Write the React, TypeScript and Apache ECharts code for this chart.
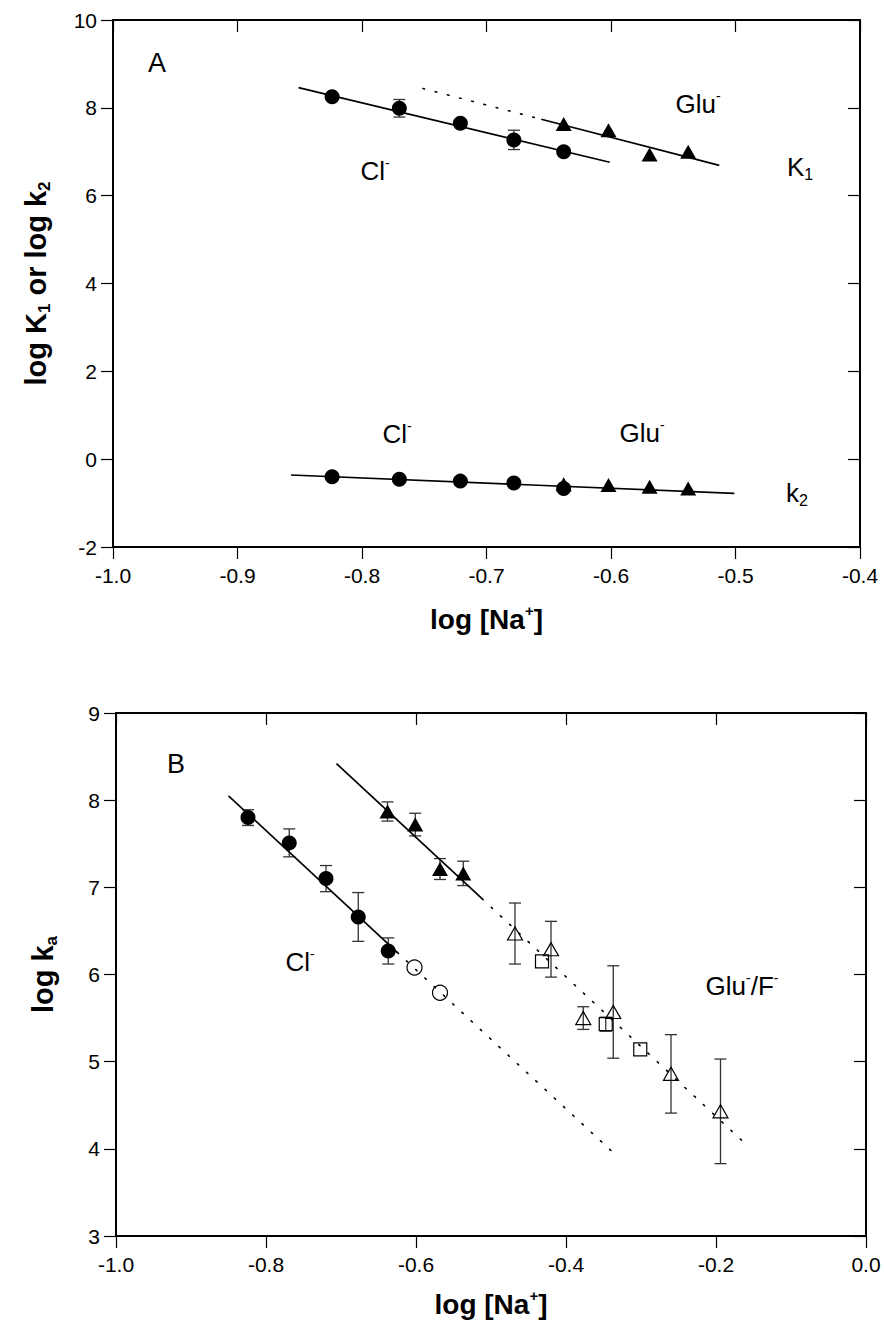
import React, { useEffect, useRef } from "react";
import * as echarts from "echarts";

// ---------- Panel A data ----------
const naA_Cl = [-0.824, -0.770, -0.721, -0.678, -0.638];
const logK1_Cl = [8.25, 7.99, 7.65, 7.27, 7.0];
const logK1_Cl_err = [0.0, 0.2, 0.0, 0.22, 0.0];
const naA_Glu = [-0.638, -0.602, -0.569, -0.538];
const logK1_Glu = [7.63, 7.49, 6.94, 7.0];
const logk2_Cl = [-0.4, -0.46, -0.5, -0.54, -0.67];
const logk2_Glu = [-0.57, -0.59, -0.63, -0.67];
const fitK1_Cl = [[-0.851, 8.46], [-0.601, 6.76]];
const fitK1_Glu = [[-0.656, 7.74], [-0.513, 6.69]];
const fitK1_GluDotted = [[-0.751, 8.44], [-0.656, 7.74]];
const fitk2 = [[-0.857, -0.36], [-0.501, -0.78]];

// ---------- Panel B data ----------
const naB_Cl = [-0.824, -0.769, -0.72, -0.677, -0.637];
const logka_Cl = [7.8, 7.51, 7.1, 6.66, 6.27];
const logka_Cl_err = [0.09, 0.16, 0.15, 0.28, 0.15];
const naB_ClOpen = [-0.602, -0.568];
const logka_ClOpen = [6.08, 5.79];
const naB_Glu = [-0.638, -0.601, -0.568, -0.537];
const logka_Glu = [7.87, 7.72, 7.21, 7.16];
const logka_Glu_err = [0.11, 0.13, 0.12, 0.14];
const naB_GluOpen = [-0.468, -0.42, -0.377, -0.337, -0.26, -0.194];
const logka_GluOpen = [6.47, 6.29, 5.5, 5.57, 4.86, 4.43];
const logka_GluOpen_err = [0.35, 0.32, 0.13, 0.53, 0.45, 0.6];
const naB_F = [-0.432, -0.347, -0.301];
const logka_F = [6.15, 5.43, 5.14];
const logka_F_err = [0.0, 0.08, 0.0];
const fitB_Cl = [[-0.85, 8.05], [-0.625, 6.254]];
const fitB_ClDotted = [[-0.625, 6.254], [-0.34, 3.98]];
const fitB_Glu = [[-0.706, 8.42], [-0.512, 6.87]];
const fitB_GluDotted = [[-0.512, 6.87], [-0.166, 4.1]];

// ---------- axis ranges ----------
const axisA_x = { min: -1.0, max: -0.4, interval: 0.1 };
const axisA_y = { min: -2, max: 10, interval: 2 };
const axisB_x = { min: -1.0, max: 0.0, interval: 0.2 };
const axisB_y = { min: 3, max: 9, interval: 1 };

const NARROW = "'Liberation Sans Narrow', 'Liberation Sans', Arial, sans-serif";
const SANS = "'Liberation Sans', Arial, sans-serif";

const zip = (xs: number[], ys: number[], es?: number[]) =>
  xs.map((x, i) => (es ? [x, ys[i], es[i]] : [x, ys[i]]));

function App() {
  const ref = useRef<HTMLDivElement>(null);

  useEffect(() => {
    if (!ref.current) return;
    const chart = echarts.init(ref.current, undefined, { renderer: "svg" });

    const fmt1 = (v: number) => (Math.abs(v) < 1e-9 ? "0.0" : v.toFixed(1));

    const bottomX = (r: any, grid: number, gap: number) => ({
      type: "value",
      gridIndex: grid,
      position: "bottom",
      min: r.min,
      max: r.max,
      interval: r.interval,
      name: "{b|log [Na}{s|+}{b|]}",
      nameLocation: "middle",
      nameGap: gap,
      nameTextStyle: {
        rich: {
          b: { fontSize: 28, fontWeight: "bold", fontFamily: NARROW, color: "#000", lineHeight: 32 },
          s: { fontSize: 15, fontWeight: "bold", fontFamily: NARROW, color: "#000", verticalAlign: "top", lineHeight: 16 },
        },
      },
      splitLine: { show: false },
      axisLine: { show: true, onZero: false, lineStyle: { color: "#000", width: 2 } },
      axisTick: { show: true, inside: false, length: 12, lineStyle: { color: "#000", width: 1.2 } },
      axisLabel: { show: true, margin: 18, fontSize: 21, fontFamily: NARROW, color: "#000", formatter: fmt1 },
    });
    const topX = (r: any, grid: number) => ({
      type: "value",
      gridIndex: grid,
      position: "top",
      min: r.min,
      max: r.max,
      interval: r.interval,
      splitLine: { show: false },
      axisLine: { show: true, onZero: false, lineStyle: { color: "#000", width: 2 } },
      axisTick: { show: true, inside: true, length: 12, lineStyle: { color: "#000", width: 1.2 } },
      axisLabel: { show: false },
    });
    const leftY = (r: any, grid: number, name: string, rich: any, gap: number) => ({
      type: "value",
      gridIndex: grid,
      position: "left",
      min: r.min,
      max: r.max,
      interval: r.interval,
      name,
      nameLocation: "middle",
      nameGap: gap,
      nameRotate: 90,
      nameTextStyle: { rich },
      splitLine: { show: false },
      axisLine: { show: true, onZero: false, lineStyle: { color: "#000", width: 2 } },
      axisTick: { show: true, inside: false, length: 12, lineStyle: { color: "#000", width: 1.2 } },
      axisLabel: { show: true, margin: 16, fontSize: 21, fontFamily: NARROW, color: "#000" },
    });
    const rightY = (r: any, grid: number) => ({
      type: "value",
      gridIndex: grid,
      position: "right",
      min: r.min,
      max: r.max,
      interval: r.interval,
      splitLine: { show: false },
      axisLine: { show: true, onZero: false, lineStyle: { color: "#000", width: 2 } },
      axisTick: { show: true, inside: true, length: 12, lineStyle: { color: "#000", width: 1.2 } },
      axisLabel: { show: false },
    });

    const yRich = {
      b: { fontSize: 29, fontWeight: "bold", fontFamily: SANS, color: "#000", lineHeight: 34 },
      sub: { fontSize: 17, fontWeight: "bold", fontFamily: SANS, color: "#000", verticalAlign: "bottom", lineHeight: 14 },
    };

    const errBar = (xi: number, yi: number, data: number[][], id: string) => ({
      type: "custom",
      id,
      xAxisIndex: xi,
      yAxisIndex: yi,
      z: 1,
      data,
      renderItem: (params: any, api: any) => {
        const x = api.value(0);
        const y = api.value(1);
        const e = api.value(2);
        if (!e) return null;
        const t = api.coord([x, y + e]);
        const b = api.coord([x, y - e]);
        const w = 6;
        const st = { stroke: "#333", lineWidth: 1.3, fill: "none" };
        return {
          type: "group",
          children: [
            { type: "line", shape: { x1: t[0], y1: t[1], x2: b[0], y2: b[1] }, style: st },
            { type: "line", shape: { x1: t[0] - w, y1: t[1], x2: t[0] + w, y2: t[1] }, style: st },
            { type: "line", shape: { x1: b[0] - w, y1: b[1], x2: b[0] + w, y2: b[1] }, style: st },
          ],
        };
      },
    });

    const fitLine = (xi: number, yi: number, data: number[][], dotted: boolean) => ({
      type: "line",
      xAxisIndex: xi,
      yAxisIndex: yi,
      data,
      z: 2,
      showSymbol: false,
      symbol: "none",
      silent: true,
      lineStyle: dotted
        ? { color: "#000", width: 1.6, type: [1.6, 11], cap: "round" }
        : { color: "#000", width: 1.7 },
    });

    const scatter = (xi: number, yi: number, data: number[][], symbol: string, size: any, open: boolean) => ({
      type: "scatter",
      xAxisIndex: xi,
      yAxisIndex: yi,
      data,
      z: 3,
      symbol,
      symbolSize: size,
      itemStyle: open
        ? { color: "transparent", borderColor: "#000", borderWidth: 1.2, opacity: 1 }
        : { color: "#000", opacity: 1 },
    });

    const supRich = (fs: number) => ({
      a: { fontSize: fs, fontFamily: SANS, fill: "#000", lineHeight: Math.round(fs * 1.2) },
      s: { fontSize: Math.round(fs * 0.55), fontFamily: SANS, fill: "#000", verticalAlign: "top", lineHeight: Math.round(fs * 0.5) },
      d: { fontSize: Math.round(fs * 0.62), fontFamily: SANS, fill: "#000", verticalAlign: "bottom", lineHeight: Math.round(fs * 0.5) },
    });
    const label = (text: string, x: number, y: number, fs = 26) => ({
      type: "text",
      x,
      y,
      silent: true,
      style: { text, rich: supRich(fs), align: "center", verticalAlign: "middle", fill: "#000" },
    });

    const option: any = {
      animation: false,
      backgroundColor: "#fff",
      grid: [
        { left: 113, top: 20, width: 747, height: 527, containLabel: false },
        { left: 116, top: 713, width: 750, height: 523, containLabel: false },
      ],
      xAxis: [bottomX(axisA_x, 0, 56), topX(axisA_x, 0), bottomX(axisB_x, 1, 52), topX(axisB_x, 1)],
      yAxis: [
        leftY(axisA_y, 0, "{b|log K}{sub|1}{b| or log k}{sub|2}", yRich, 60),
        rightY(axisA_y, 0),
        leftY(axisB_y, 1, "{b|log k}{sub|a}", yRich, 56),
        rightY(axisB_y, 1),
      ],
      series: [
        // Panel A
        errBar(0, 0, zip(naA_Cl, logK1_Cl, logK1_Cl_err), "errA"),
        fitLine(0, 0, fitK1_Cl, false),
        fitLine(0, 0, fitK1_Glu, false),
        fitLine(0, 0, fitK1_GluDotted, true),
        fitLine(0, 0, fitk2, false),
        scatter(0, 0, zip(naA_Glu, logK1_Glu), "triangle", [16, 14], false),
        scatter(0, 0, zip(naA_Glu, logk2_Glu), "triangle", [16, 14], false),
        scatter(0, 0, zip(naA_Cl, logK1_Cl), "circle", 15, false),
        scatter(0, 0, zip(naA_Cl, logk2_Cl), "circle", 15, false),
        // Panel B
        errBar(2, 2, zip(naB_Cl, logka_Cl, logka_Cl_err), "errB1"),
        errBar(2, 2, zip(naB_Glu, logka_Glu, logka_Glu_err), "errB2"),
        errBar(2, 2, zip(naB_GluOpen, logka_GluOpen, logka_GluOpen_err), "errB3"),
        errBar(2, 2, zip(naB_F, logka_F, logka_F_err), "errB4"),
        fitLine(2, 2, fitB_Cl, false),
        fitLine(2, 2, fitB_ClDotted, true),
        fitLine(2, 2, fitB_Glu, false),
        fitLine(2, 2, fitB_GluDotted, true),
        scatter(2, 2, zip(naB_Cl, logka_Cl), "circle", 15, false),
        scatter(2, 2, zip(naB_ClOpen, logka_ClOpen), "circle", 15, true),
        scatter(2, 2, zip(naB_Glu, logka_Glu), "triangle", [16, 14], false),
        scatter(2, 2, zip(naB_GluOpen, logka_GluOpen), "triangle", [15, 13], true),
        scatter(2, 2, zip(naB_F, logka_F), "rect", 13, true),
      ],
      graphic: [
        label("{a|A}", 157, 63, 27),
        label("{a|Glu}{s|-}", 698, 104),
        label("{a|Cl}{s|-}", 375, 171),
        label("{a|K}{d|1}", 800, 167),
        label("{a|Cl}{s|-}", 397, 434),
        label("{a|Glu}{s|-}", 642, 433),
        label("{a|k}{d|2}", 797, 493),
        label("{a|B}", 176, 764, 27),
        label("{a|Cl}{s|-}", 300, 962),
        label("{a|Glu}{s|-}{a|/F}{s|-}", 742, 986),
      ],
    };

    chart.setOption(option);
    return () => chart.dispose();
  }, []);

  return (
    <div
      ref={ref}
      style={{ position: "absolute", left: 0, top: 0, width: 884, height: 1338, background: "#fff" }}
    />
  );
}

export default App;
